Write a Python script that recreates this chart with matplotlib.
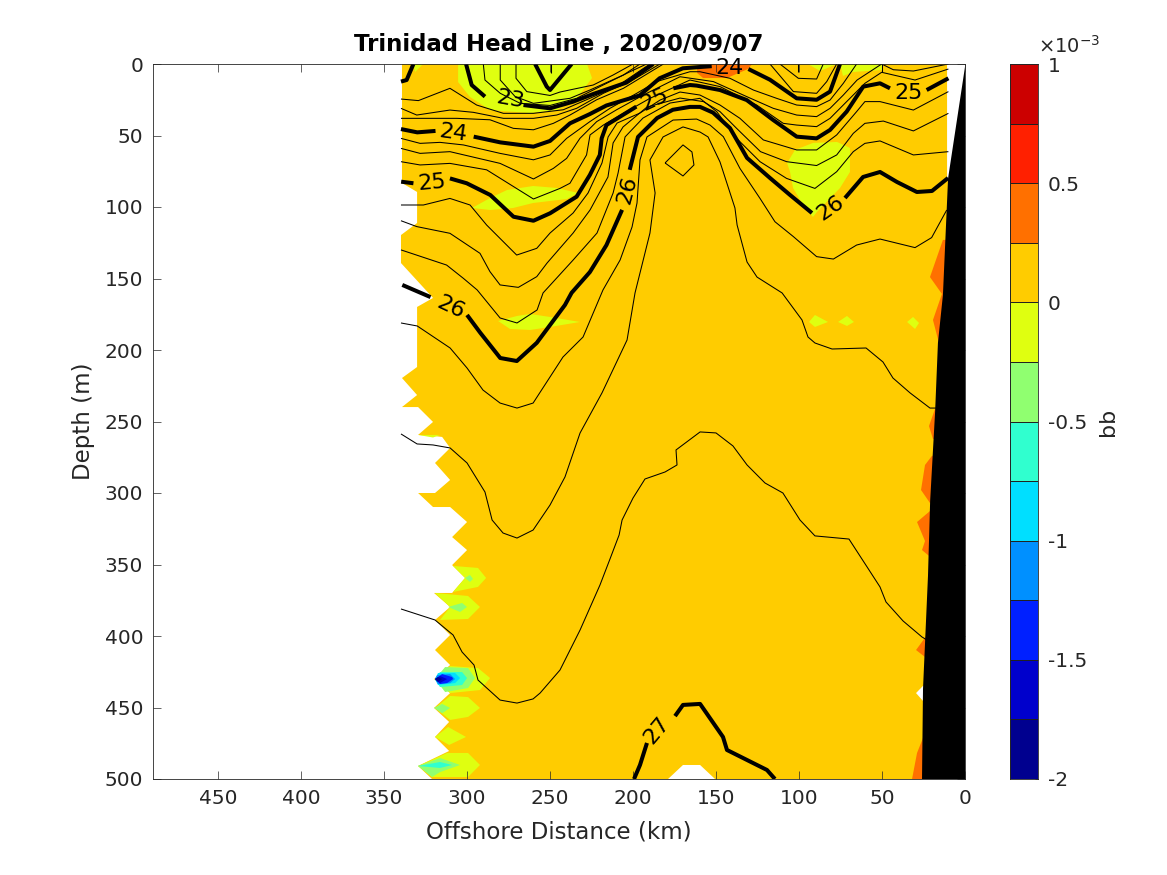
import matplotlib
matplotlib.use('Agg')
import matplotlib.pyplot as plt
import numpy as np

# band edges and colours of the colorbar (units of 1e-3)
band_edges = [-2, -1.75, -1.5, -1.25, -1, -0.75, -0.5, -0.25, 0, 0.25, 0.5, 0.75, 1]
band_colors = ['#00008F', '#0000CC', '#0020FF', '#0090FF', '#00DFFF', '#30FFCF',
               '#90FF70', '#DFFF10', '#FFCC00', '#FF7000', '#FF2000', '#CC0000']
cbar_ticks = [-2, -1.5, -1, -0.5, 0, 0.5, 1]
cbar_labels = ['-2', '-1.5', '-1', '-0.5', '0', '0.5', '1']
x_ticks = [450, 400, 350, 300, 250, 200, 150, 100, 50, 0]
y_ticks = [0, 50, 100, 150, 200, 250, 300, 350, 400, 450, 500]

## filled regions, (km, m)
base_region = [(339.2, 0), (339.2, 83.2), (330.1, 89.5), (330.1, 111.2), (339.8, 119.6), (339.8, 139.2),
               (320.5, 163.6), (330.1, 169.9), (330.1, 211.9), (339.2, 219.6), (330.1, 231.5), (339.2, 239.9),
               (329.5, 239.9), (320.5, 250.3), (329.5, 259.4), (320.5, 260.1), (315, 260.8), (310.2, 268.5),
               (319.3, 279), (310.2, 290.9), (319.3, 300), (329.5, 300), (320.5, 309.8), (310.2, 309.8),
               (300, 320.3), (309, 330.8), (300, 339.9), (309, 350.4), (301.2, 359.4), (309, 369.9),
               (319.9, 369.9), (310.2, 379.7), (319.3, 388.8), (310.2, 399.3), (319.3, 409.8), (310.2, 420.3),
               (319.9, 430.1), (310.2, 439.9), (319.9, 450.3), (310.8, 460.1), (319.3, 470.6), (310.8, 480.4),
               (329.5, 490.9), (321.1, 500), (178.9, 500), (169.9, 490.2), (159.6, 490.2), (150.6, 500),
               (5, 500), (5, 445.4), (25.3, 445.4), (29.5, 439.9), (25.3, 434.9), (5, 434.9), (5, 85),
               (10.8, 79.7), (10.8, 0)]

green_regions = [
    [(305.4, 0), (305.4, 12.6), (298.2, 23.1), (286.1, 32.2), (262, 34.3), (245.8, 32.2), (233.7, 23.8), (224.7, 9.8), (227.7, 0)],
    [(332.5, 0), (331.3, 5.6), (326.5, 0)],
    [(297, 100.7), (286.1, 93.7), (275.9, 88.1), (260.2, 85.3), (245.8, 86.7), (233.1, 90.2), (239.8, 94.4), (260.2, 97.2), (272.3, 100.7), (286.1, 102.1)],
    [(281.3, 179.7), (269.9, 176.2), (262, 174.8), (250, 176.9), (231.9, 180.4), (250, 183.9), (262, 186), (274.1, 185.3)],
    [(107.2, 69.2), (102.4, 60.1), (91.6, 55.2), (77.1, 54.5), (69.3, 58.7), (69.3, 75.5), (75.3, 86.7), (89.2, 103.5), (91.6, 107), (98.2, 97.2), (103.6, 86.7), (105.4, 75.5)],
    [(94.6, 0), (87.3, 4.9), (77.1, 0)],
    [(75.3, 0), (73.5, 8.4), (67.5, 5.6), (50, 4.2), (50, 0)],
    [(94, 180.4), (90.4, 175.5), (82.5, 180.4), (90.4, 183.9)],
    [(76.5, 180.4), (71.1, 176.2), (66.9, 180.4), (71.1, 183.2)],
    [(34.9, 180.4), (31.3, 176.9), (27.7, 181.1), (30.1, 185.3)],
    [(329.5, 259.4), (316.3, 259.4), (320.5, 261.2)],
    [(308.4, 351), (293.4, 352.4), (288.5, 359.4), (293.4, 365.7), (308.4, 369.2), (301.2, 359.4)],
    [(319.3, 369.9), (299.4, 372), (292.2, 379.7), (299.4, 388.1), (316.3, 388.8), (310.2, 379.7)],
    [(310.2, 421), (293.4, 422.4), (286.1, 429.4), (292.2, 437.8), (310.2, 439.9), (319.3, 430.1)],
    [(319.3, 450.3), (310.2, 441.9), (299.4, 442.7), (292.2, 450.3), (299.4, 456.6), (310.2, 458.7)],
    [(319.3, 470.6), (311.4, 463.6), (300.6, 470.6), (310.8, 476.2)],
    [(329.5, 490.9), (312, 481.8), (299.4, 481.8), (292.2, 490.2), (299.4, 498.6), (321.1, 498.6)],
]

lightgreen_regions = [
    [(301.2, 359.4), (298.2, 357.3), (296.4, 360.1), (298.2, 362.2)],
    [(311.4, 379.7), (303, 376.9), (300, 379.7), (304.2, 383.2)],
    [(313.2, 421.7), (299.4, 422.4), (295.2, 429.4), (299.4, 436.4), (313.2, 439.2), (319.3, 430.1)],
    [(319.9, 450.3), (315, 447.5), (310.2, 450.3), (315, 454)],
    [(329.5, 490.9), (316.3, 485.3), (304.2, 490.2), (316.3, 495.2), (321.1, 498.6)],
]

teal_regions = [
    [(316.3, 425.2), (303, 425.2), (300, 429.4), (303, 434.3), (316.3, 435.7), (319.3, 430.1)],
    [(329.5, 490.9), (316.3, 488.1), (309, 490.2), (316.3, 492.3)],
]
cyan_region = [(317.5, 425.9), (307.2, 425.9), (304.2, 429.4), (307.2, 432.9), (317.5, 434.3), (319.3, 430.1)]
lightblue_region = [(318, 427.3), (310.2, 426.6), (307.2, 430.1), (310.2, 432.9), (317.5, 433.6), (319.3, 430.1)]
blue_region = [(319.3, 430.1), (315, 426.6), (309, 428.7), (308.4, 430.1), (312, 432.9), (316.3, 433.6)]
deepblue_region = [(319.3, 430.1), (316.3, 428), (312, 430.1), (316.3, 432.9)]
navy_region = [(319.3, 430.1), (317.5, 428.7), (315, 430.1), (317.5, 432.2)]

orange_regions = [
    [(161.4, 1.4), (161.4, 6.3), (157.8, 9.8), (143.4, 9.8), (130.7, 3.5), (128.3, 0), (152.4, 0)],
    [(13.3, 123), (21.1, 149), (13.9, 160.8), (19.3, 179), (15.7, 195.1), (5, 195), (5, 123)],
    [(18.1, 241.3), (21.7, 253.2), (19.3, 262.2), (5, 262), (5, 241)],
    [(19.9, 274), (24.1, 280.4), (26.5, 297.9), (21.1, 307), (5, 307), (5, 274)],
    [(21.1, 312.6), (28.9, 320.3), (24.1, 333.6), (25.9, 339.9), (21.7, 344), (5, 344), (5, 312)],
    [(22.9, 399.3), (29.5, 409.8), (24.1, 414.7), (5, 414), (5, 399)],
    [(25.3, 471.3), (28.9, 481.8), (31.9, 500), (5, 500), (5, 471)],
]

# bathymetry
bottom_km = [0, 10.2, 13.3, 16.3, 18, 21, 22.3, 25.3, 25.9, 0]
bottom_m = [2, 80, 161.5, 195, 243, 305.6, 358, 437, 500, 500]

## thick contours, broken where the labels sit
thick_22 = [(259, 0), (252, 15.8), (250, 18.2), (237, 0)]
thick_23_a = [(332.3, 0), (336.4, 11.2), (339.8, 12.3)]
thick_23_b = [(300.6, 0), (297.2, 14.7), (289.2, 22.8)]
thick_23_c = [(266, 28.7), (250, 31), (236, 26.3), (224, 21), (204, 13), (187.8, 0)]
thick_24_a = [(339.8, 45.5), (330, 47.8), (319, 46.8)]
thick_24_b = [(296, 50.8), (280, 54.8), (260, 57.8), (250, 53.8), (238, 41.5), (226, 35), (216, 29), (196, 22), (184, 10), (170, 3), (152.6, 1.5)]
thick_24_c = [(130.5, 3.5), (117.5, 11), (101.4, 24), (89.4, 25), (81.3, 19.3), (75.3, 0)]
thick_25_a = [(339.7, 82.3), (332.3, 83.4)]
thick_25_b = [(310.3, 80), (300.2, 83.4), (286, 91.6), (272, 106.8), (260, 109.6), (250, 104.4), (234, 92.8), (226, 77.6), (220, 63.6), (218.9, 52), (216, 42.7), (198, 29.8)]
thick_25_c = [(175.7, 17), (165.7, 14.7), (161.7, 15.1), (147.6, 18.2), (131.5, 25.2), (115.5, 39.2), (101.4, 50.8), (89.4, 52), (81.3, 46.1), (71.3, 33.3), (61.3, 15.8), (51.2, 13.5), (45.2, 17)]
thick_25_d = [(23.1, 18.2), (10, 10)]
thick_26_a = [(339, 154.5), (322, 163)]
thick_26_b = [(300, 175.5), (292, 188), (280, 205.6), (270, 207.7), (258, 195), (241, 168.5), (237, 160), (226, 145.5), (216, 126.6), (206.6, 102)]
thick_26_c = [(202, 74), (197, 51), (185.5, 37.8), (176, 32), (165.7, 30), (159.6, 30), (151.8, 34), (141.6, 44.8), (131.3, 65.7), (117.5, 79.7), (105.4, 91.6), (92.2, 104.2)]
thick_26_d = [(72.3, 93.7), (61.4, 79), (51.2, 75.5), (41, 82.5), (29, 89.5), (19.9, 88.8), (10.2, 79.7)]
thick_27_a = [(199.4, 500), (195.8, 490.2), (191.6, 474.8)]
thick_27_b = [(174.7, 456), (169.9, 448.2), (159.6, 447.5), (145.8, 470.6), (143.4, 479.7), (119.3, 493.7), (114.5, 500)]

## thin contours
thin_22_00 = [(249.6, 0), (249.6, 6.5)]
thin_22_25 = [(270.5, 0), (270.5, 10), (264, 19.3), (250, 22), (244, 19.6), (224, 14.7), (212, 7.7), (200, 0)]
thin_22_50 = [(280, 0), (280, 11.2), (271, 22.8), (260, 27.5), (238, 24), (226, 18.2), (205.8, 7.7), (195.8, 0)]
thin_22_75 = [(290.2, 0), (289.2, 11.2), (280, 20.5), (268, 27.5), (250, 29), (234, 24), (218, 14.7), (201.8, 5.4), (191.8, 0)]
thin_23_25 = [(339.8, 24.5), (329.3, 25.6), (310.3, 17), (294.2, 28.7), (278.1, 34.5), (260, 34.5), (242, 32), (226, 24), (209.9, 15.8), (189.8, 0)]
thin_23_50 = [(339.8, 31), (330.3, 35.7), (310.3, 32.2), (296.2, 33.8), (278.1, 38), (260, 38), (246, 35.7), (234, 31), (217.9, 20.5), (201.8, 12.3), (183.8, 0)]
thin_23_75 = [(339.8, 38), (306.2, 38), (286.2, 39), (272.1, 45), (260, 46), (248, 41.5), (238, 35.7), (221.9, 25), (205.8, 17), (181.7, 0)]
thin_right_1 = [(100.4, 0), (100.4, 5.4)]
thin_right_2 = [(111.5, 0), (100.4, 10), (89.4, 10.5), (85.4, 0)]
thin_right_3 = [(117.5, 0), (103.4, 19.3), (89.4, 20.5), (83.3, 12.3), (77.3, 0)]
thin_right_4 = [(50.2, 0), (50.2, 5.4)]
thin_24_25 = [(339.8, 52), (328.3, 55.5), (316.3, 54.8), (302.2, 56.6), (280.1, 62.5), (260, 67), (250, 63.6), (240, 52), (226, 40.3), (213.9, 31), (197.8, 20.5), (185.8, 12.3), (165.7, 5.4), (159.7, 5.4), (141.6, 10), (127.5, 18.2), (113.5, 24), (101.4, 28.7), (89.4, 29.8), (81.3, 25.2), (73.3, 13.5), (65.3, 0)]
thin_24_50 = [(339.8, 59), (328.3, 62.5), (310.3, 61.3), (280.1, 69.5), (260, 80.4), (248, 73), (240, 66), (232, 52), (221.9, 40.3), (209.9, 32), (193.8, 21.7), (171.7, 8.9), (151.6, 12.3), (131.5, 22.8), (115.5, 31), (101.4, 35.7), (89.4, 36.8), (81.3, 31), (73.3, 21.7), (65, 11.2), (50.2, 0), (43.2, 4), (31.1, 4.9), (10, 0)]
thin_24_75 = [(339.8, 68.3), (328.3, 70.6), (310.3, 69.5), (288.2, 74), (260, 94.4), (244, 87), (238, 83.4), (228, 63.6), (225.9, 49.6), (217.9, 42.7), (205.8, 34.5), (189.8, 24), (165.7, 11.2), (147.6, 15.8), (125.5, 28.7), (109.5, 41.5), (101.4, 42.7), (89.4, 43.8), (81.3, 38), (71.3, 26.3), (60.3, 13.5), (50.2, 5.8), (30.1, 11.2), (10, 3.5)]
thin_25_25 = [(339.8, 98.6), (326.3, 98.6), (310.3, 94), (298.2, 98.6), (288.2, 112.6), (270.1, 133.6), (258, 128.9), (250, 118.2), (236.1, 104.2), (227.1, 90.2), (218.7, 69.2), (215, 51), (209.6, 41.3), (195.8, 34.3), (183.7, 25.2), (171.7, 19.6), (159.7, 21.7), (147.6, 28.7), (135.6, 38), (121.5, 53.1), (101.4, 60.1), (89.4, 60.1), (77.3, 49.6), (65.3, 33.3), (60.3, 26.3), (51.2, 26.3), (31.1, 32.2), (10, 19.3)]
thin_25_50 = [(339.8, 109.6), (330.3, 113.7), (310.3, 118.4), (292.2, 132.4), (286.2, 145.2), (280.1, 154.5), (269.1, 156.2), (258, 148.7), (251.8, 139.2), (236.1, 118.2), (225.9, 102.1), (215.1, 79), (212, 55.2), (206, 44), (191.6, 30.1), (171.7, 23.8), (157.6, 26.3), (147.6, 33.3), (137.6, 45), (123.2, 61.3), (107.5, 68.3), (89.4, 71), (77.3, 63.6), (67.3, 48.5), (60.3, 41.5), (49.2, 39.9), (31.1, 46.8), (10, 34.5)]
thin_25_75 = [(339.8, 130), (312.3, 140.6), (302.2, 149.9), (293.9, 158), (280.1, 177.6), (269.9, 181.1), (257.8, 172), (254.2, 160.1), (236.1, 137.1), (221.7, 118.2), (212, 90.2), (209, 76.2), (204.8, 51), (194, 37.8), (177.7, 27.3), (159.7, 24), (149.6, 33.3), (137.6, 52), (123.5, 68.3), (107.5, 80), (90.4, 87), (77.3, 75.3), (67.3, 61.3), (60.3, 55.5), (51.2, 53.8), (31.1, 63.6), (10, 61.3)]
thin_26_25 = [(339.8, 181.1), (330, 183.2), (310.2, 198.6), (300, 212.6), (290.4, 228), (280.1, 237.1), (269.9, 240.6), (260.2, 237.1), (242.2, 204.9), (230.1, 190.9), (218.1, 158), (207.8, 137.1), (200.6, 114), (197.6, 97.2), (195.8, 67.1), (191.6, 51), (175.9, 39.2), (161.7, 38.5), (153.6, 42.7), (145.6, 50.8), (135.6, 73), (123.5, 94), (114.5, 110.3), (103.4, 120.7), (89.4, 134.7), (79.3, 136.4), (65.3, 126.6), (51.2, 122.4), (30.1, 128.4), (20.1, 121.4), (11, 102.1)]
thin_26_50 = [(339.8, 258.7), (330.1, 265.7), (320.5, 266.4), (310.2, 268.5), (300, 279), (289.2, 299.3), (284.9, 318.9), (278.3, 328), (269.9, 331.5), (260.2, 325.9), (250, 308.4), (241, 288.8), (231.9, 258), (218.7, 230), (203.6, 193), (198.8, 160.1), (189.8, 118.2), (186.7, 90.2), (189.8, 67.1), (181.9, 51), (169.9, 44), (159.6, 47.6), (154.8, 51), (147.6, 68.5), (138.6, 100.7), (137.3, 112.6), (131.3, 138.5), (125.3, 149), (110.2, 160.1), (98.2, 179), (94.6, 190.9), (90.4, 195.1), (80.1, 199.3), (59.6, 198.6), (49.4, 208.4), (43.4, 219.6), (33.1, 230), (21.1, 240.6), (17.5, 240.6)]
thin_26_75 = [(339.8, 381.1), (319.3, 388.8), (308.4, 399.3), (303, 411.2), (295.8, 420.3), (293.4, 430.8), (280.1, 444.8), (269.9, 446.9), (260.2, 444), (256, 439.9), (244, 423.8), (231.9, 395.8), (219.9, 364.3), (213.9, 346.2), (208.4, 329.4), (206.6, 318.9), (200, 303.5), (192.8, 290.2), (180.7, 285.3), (173.5, 280.4), (174.1, 269.9), (159.6, 257.3), (150, 258), (139.8, 267.1), (131.3, 280.4), (120.5, 293), (109.7, 300), (99.4, 318.9), (90.4, 330), (69.9, 332.2), (59, 351.7), (51.2, 365.7), (47.6, 376.2), (37.3, 389.5), (25.9, 400.7), (22.9, 402.8)]
thin_loop = [(180.7, 69.2), (169.9, 56.6), (164.5, 61.5), (163.3, 70.6), (169.9, 78.3), (180.7, 69.2)]

thick_lines = [thick_22, thick_23_a, thick_23_b, thick_23_c, thick_24_a, thick_24_b, thick_24_c,
               thick_25_a, thick_25_b, thick_25_c, thick_25_d, thick_26_a, thick_26_b, thick_26_c,
               thick_26_d, thick_27_a, thick_27_b]
thin_lines = [thin_22_00, thin_22_25, thin_22_50, thin_22_75, thin_23_25, thin_23_50, thin_23_75,
              thin_right_1, thin_right_2, thin_right_3, thin_right_4, thin_24_25, thin_24_50, thin_24_75,
              thin_25_25, thin_25_50, thin_25_75, thin_26_25, thin_26_50, thin_26_75, thin_loop]

# contour labels: text, km, m, rotation
label_text = ['23', '24', '24', '25', '25', '25', '26', '26', '26', '27']
label_km = [274, 308.4, 141.6, 321, 186.7, 34.3, 310, 203.6, 81.3, 185.6]
label_m = [25, 48, 2.5, 83, 25.2, 20.3, 170, 88, 100.7, 465.7]
label_rot = [-10, -8, 0, 5, 25, 0, -25, 75, 35, 50]

dark = '#262626'
plt.rcParams['font.family'] = 'DejaVu Sans'


def fill_region(ax, region, color):
    pts = np.array(region)
    ax.fill(pts[:, 0], pts[:, 1], color=color, lw=0)


def draw_line(ax, line, lw):
    pts = np.array(line)
    ax.plot(pts[:, 0], pts[:, 1], color='black', lw=lw, solid_joinstyle='round', solid_capstyle='butt')


fig = plt.figure(figsize=(11.67, 8.75), dpi=100)
ax = fig.add_axes([153 / 1167, 96 / 875, 812 / 1167, 715 / 875])

fill_region(ax, base_region, band_colors[8])
for region in green_regions:
    fill_region(ax, region, band_colors[7])
for region in lightgreen_regions:
    fill_region(ax, region, band_colors[6])
for region in teal_regions:
    fill_region(ax, region, band_colors[5])
fill_region(ax, cyan_region, band_colors[4])
fill_region(ax, lightblue_region, band_colors[3])
fill_region(ax, blue_region, band_colors[2])
fill_region(ax, deepblue_region, band_colors[1])
fill_region(ax, navy_region, band_colors[0])
for region in orange_regions:
    fill_region(ax, region, band_colors[9])

for line in thin_lines:
    draw_line(ax, line, 0.75)
for line in thick_lines:
    draw_line(ax, line, 2.9)

ax.fill(bottom_km, bottom_m, color='black', lw=0, zorder=3)

for txt, km, m, rot in zip(label_text, label_km, label_m, label_rot):
    ax.text(km, m, txt, rotation=rot, ha='center', va='center', fontsize=16, color='black', clip_on=False)

ax.set_xlim(489.2, 0)
ax.set_ylim(500, 0)
ax.set_xticks(x_ticks)
ax.set_yticks(y_ticks)
ax.tick_params(direction='in', top=True, right=True, length=5.5, width=0.5, color=dark,
               labelcolor=dark, labelsize=14.5, pad=7)
for spine in ax.spines.values():
    spine.set_linewidth(0.6)
    spine.set_color(dark)
ax.set_xlabel('Offshore Distance (km)', fontsize=16.5, color=dark, labelpad=9)
ax.set_ylabel('Depth (m)', fontsize=16.5, color=dark, labelpad=7)
ax.set_title('Trinidad Head Line , 2020/09/07', fontsize=16.5, fontweight='bold', color='black', pad=9)

# colorbar
cax = fig.add_axes([1010 / 1167, 96 / 875, 28 / 1167, 715 / 875])
for lo, hi, col in zip(band_edges[:-1], band_edges[1:], band_colors):
    cax.bar(0.5, hi - lo, bottom=lo, width=1, color=col, edgecolor='#202020', linewidth=0.7)
cax.set_xlim(0, 1)
cax.set_ylim(band_edges[0], band_edges[-1])
cax.set_xticks([])
cax.yaxis.tick_right()
cax.set_yticks(cbar_ticks)
cax.set_yticklabels(cbar_labels)
cax.tick_params(axis='y', direction='in', length=2, width=0.5, color=dark, labelcolor=dark,
                labelsize=14.5, pad=7)
for spine in cax.spines.values():
    spine.set_linewidth(0.6)
    spine.set_color(dark)
cax.yaxis.set_label_position('right')
cax.set_ylabel('bb', fontsize=16, color=dark, labelpad=8)
cax.text(1.0, 1.01, r'$\times10^{-3}$', transform=cax.transAxes, fontsize=14, color=dark,
         ha='left', va='bottom')

fig.savefig('out.png', dpi=100)
